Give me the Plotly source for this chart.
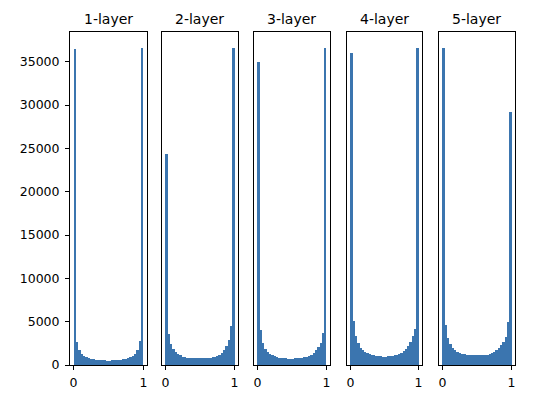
import numpy as np
import plotly.graph_objects as go

titles = ["1-layer", "2-layer", "3-layer", "4-layer", "5-layer"]
n_bins = 30
bin_edges = np.linspace(0, 1, n_bins + 1)

layer1 = [36500, 2700, 1700, 1300, 1050, 900, 800, 700, 650, 600, 570, 550, 530, 520, 510,
          510, 520, 530, 550, 570, 600, 650, 700, 800, 900, 1050, 1300, 1700, 2800, 36600]
layer2 = [24400, 3600, 2400, 1900, 1500, 1250, 1100, 950, 900, 850, 820, 800, 790, 780, 780,
          800, 780, 800, 820, 850, 900, 950, 1050, 1200, 1400, 1700, 2200, 2900, 4500, 36600]
layer3 = [35000, 4000, 2500, 1900, 1500, 1250, 1100, 1000, 900, 850, 800, 780, 760, 750, 750,
          750, 760, 770, 800, 830, 880, 950, 1050, 1200, 1400, 1700, 2100, 2500, 3700, 36600]
layer4 = [36000, 5100, 3400, 2500, 2000, 1700, 1500, 1350, 1250, 1150, 1100, 1050, 1000, 1000, 980,
          980, 1000, 1000, 1050, 1100, 1150, 1250, 1400, 1600, 1850, 2200, 2700, 3300, 4200, 36600]
layer5 = [36600, 4600, 3100, 2400, 2000, 1700, 1500, 1400, 1300, 1250, 1200, 1150, 1150, 1100, 1100,
          1100, 1100, 1150, 1150, 1200, 1300, 1400, 1500, 1700, 1950, 2300, 2700, 3200, 5000, 29200]
layers = [layer1, layer2, layer3, layer4, layer5]

y_ticks = [0, 5000, 10000, 15000, 20000, 25000, 30000, 35000]
x_ticks = [0, 1]

centers = (bin_edges[:-1] + bin_edges[1:]) / 2
width = bin_edges[1] - bin_edges[0]

domains = [(0.0, 0.173), (0.2067, 0.3775), (0.4135, 0.584), (0.6225, 0.791), (0.829, 1.0)]
ymax = max(max(l) for l in layers) * 1.05

fig = go.Figure()
font = dict(family="DejaVu Sans", size=12.5, color="#000000")
annotations = []
for i, (vals, title) in enumerate(zip(layers, titles)):
    idx = "" if i == 0 else str(i + 1)
    fig.add_trace(go.Bar(x=centers, y=vals, width=width, marker=dict(color="#3b75af", line=dict(width=0)),
                         xaxis="x" + idx, yaxis="y" + idx, showlegend=False))
    fig.layout["xaxis" + idx] = dict(domain=list(domains[i]), range=[-0.05, 1.05], anchor="y" + idx,
                                      tickvals=x_ticks, ticktext=[str(t) for t in x_ticks],
                                      ticks="outside", ticklen=4, tickcolor="#000", showgrid=False,
                                      zeroline=False, showline=True, linecolor="#000", linewidth=1,
                                      mirror=True, tickfont=font, ticklabelstandoff=2,
                                      automargin=False)
    ydict = dict(range=[0, ymax], anchor="x" + idx, showgrid=False, zeroline=False, showline=True,
                 linecolor="#000", linewidth=1, mirror=True, tickfont=font, automargin=False)
    if i == 0:
        ydict.update(tickvals=y_ticks, ticktext=[str(t) for t in y_ticks], ticks="outside",
                     ticklen=4, tickcolor="#000", ticklabelstandoff=3)
    else:
        ydict.update(showticklabels=False, ticks="")
    fig.layout["yaxis" + idx] = ydict
    annotations.append(dict(text=title, x=(domains[i][0] + domains[i][1]) / 2, y=1.0, xref="paper",
                            yref="paper", xanchor="center", yanchor="bottom", yshift=3, showarrow=False,
                            font=dict(family="DejaVu Sans", size=14, color="#000")))

fig.update_layout(width=544, height=395, margin=dict(l=70, r=29, t=32, b=30),
                  paper_bgcolor="white", plot_bgcolor="white", bargap=0,
                  annotations=annotations)
fig.write_html("out.html")
